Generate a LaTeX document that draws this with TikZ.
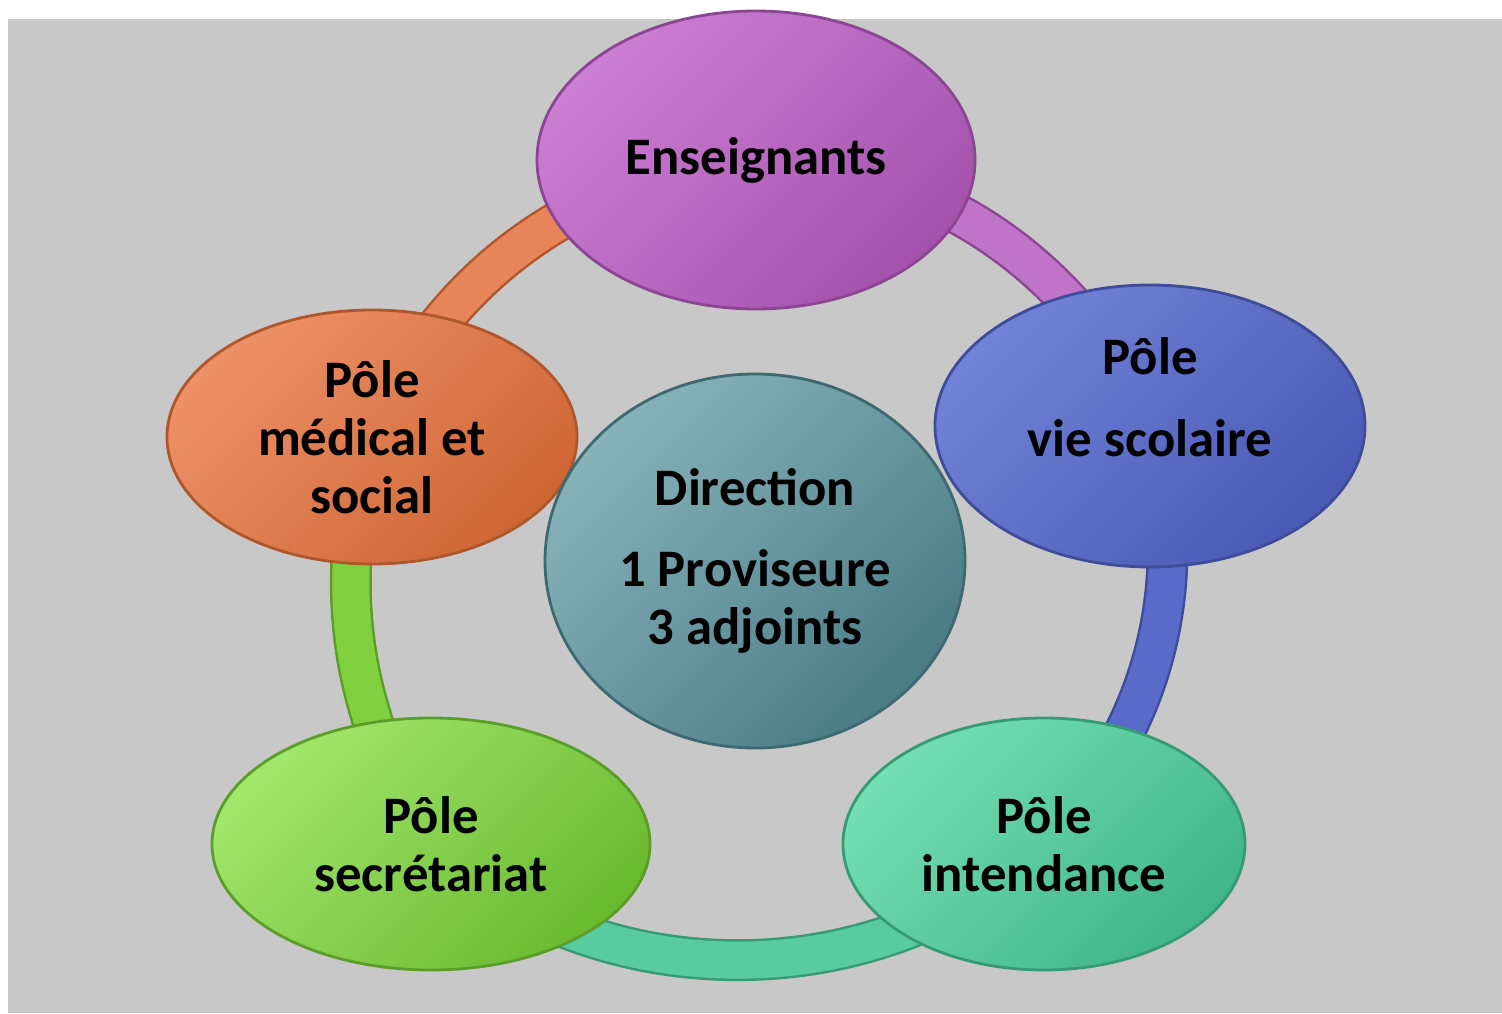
\documentclass[tikz,border=0pt]{standalone}
\usepackage{fontspec}
\setmainfont{Carlito}
\usetikzlibrary{shapes.geometric,backgrounds}
\definecolor{mybg}{RGB}{200,200,200}
\definecolor{myviolet}{RGB}{192,116,200}
\definecolor{myvioletlt}{RGB}{204,126,211}
\definecolor{myvioletdk}{RGB}{164,82,172}
\definecolor{myblue}{RGB}{90,106,200}
\definecolor{mybluelt}{RGB}{114,130,216}
\definecolor{mybluedk}{RGB}{74,90,180}
\definecolor{mymint}{RGB}{88,204,160}
\definecolor{mymintlt}{RGB}{116,222,180}
\definecolor{mymintdk}{RGB}{64,182,138}
\definecolor{mygreen}{RGB}{128,208,64}
\definecolor{mygreenlt}{RGB}{162,230,108}
\definecolor{mygreendk}{RGB}{106,186,48}
\definecolor{myorange}{RGB}{232,132,90}
\definecolor{myorangelt}{RGB}{238,144,104}
\definecolor{myorangedk}{RGB}{206,102,52}
\definecolor{myteallt}{RGB}{136,178,186}
\definecolor{mytealdk}{RGB}{74,124,133}
\tikzset{
  pole/.style={ellipse,inner sep=0pt,align=center,line width=0.8pt,
    font=\fontsize{15}{16.5}\selectfont\bfseries},
  band/.style={line width=0.7pt,double distance=0.37cm},
}
\begin{document}
\begin{tikzpicture}
  \useasboundingbox (0,0) rectangle (15.02,10.13);
  \begin{scope}[on background layer]
    \fill[mybg] (0.08,0) rectangle (15.02,9.94);
  \end{scope}
  \node[pole,minimum width=4.38cm,minimum height=2.98cm,draw=myvioletdk!85!black,
    left color=myvioletlt,right color=myvioletdk,shading angle=45] (ens) at (7.56,8.53) {Enseignants};
  \node[pole,minimum width=4.30cm,minimum height=2.82cm,draw=mybluedk!85!black,
    left color=mybluelt,right color=mybluedk,shading angle=45] (vie) at (11.50,5.87) {Pôle\\[7pt]vie scolaire\\\mbox{}};
  \node[pole,minimum width=4.02cm,minimum height=2.52cm,draw=mymintdk!85!black,
    left color=mymintlt,right color=mymintdk,shading angle=45] (int) at (10.44,1.69) {Pôle\\intendance};
  \node[pole,minimum width=4.38cm,minimum height=2.52cm,draw=mygreendk!85!black,
    left color=mygreenlt,right color=mygreendk,shading angle=45] (sec) at (4.31,1.69) {Pôle\\secrétariat};
  \node[pole,minimum width=4.10cm,minimum height=2.54cm,draw=myorangedk!85!black,
    left color=myorangelt,right color=myorangedk,shading angle=45] (med) at (3.72,5.76) {Pôle\\médical et\\social};
  \node[pole,minimum width=4.20cm,minimum height=3.74cm,draw=mytealdk!85!black,
    left color=myteallt,right color=mytealdk,shading angle=45] (dir) at (7.55,4.52) {Direction\\[6.5pt]1 Proviseure\\3 adjoints};
  \begin{scope}[on background layer]
    \foreach \a/\b/\c/\bend in {ens/vie/myviolet/32, vie/int/myblue/30, int/sec/mymint/43, sec/med/mygreen/24, med/ens/myorange/31} {
      \draw[band,draw=\c dk!85!black,double=\c] (\a.center) to[bend left=\bend,looseness=0.95] (\b.center);
    }
  \end{scope}
\end{tikzpicture}
\end{document}
